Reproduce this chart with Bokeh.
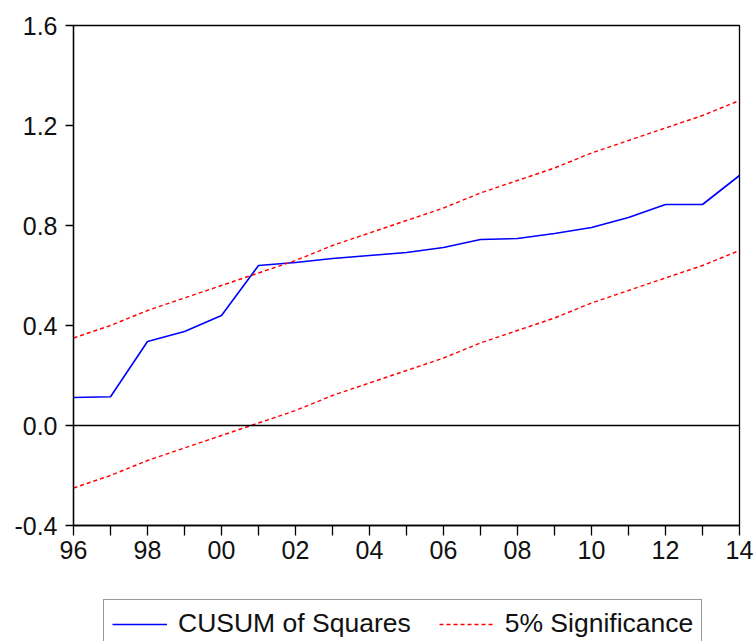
from bokeh.plotting import figure
from bokeh.models import FixedTicker, Span, Legend, LegendItem, Range1d
from bokeh.layouts import column
from bokeh.embed import file_html
from bokeh.resources import INLINE

# Data (annual, 1996-2014)
years = [1996, 1997, 1998, 1999, 2000, 2001, 2002, 2003, 2004, 2005,
         2006, 2007, 2008, 2009, 2010, 2011, 2012, 2013, 2014]
cusum_sq = [0.112, 0.115, 0.336, 0.376, 0.44, 0.64, 0.652, 0.668, 0.68, 0.692,
            0.712, 0.744, 0.748, 0.768, 0.792, 0.832, 0.884, 0.884, 1.0]
upper_5 = [0.35, 0.40, 0.46, 0.51, 0.56, 0.61, 0.66, 0.72, 0.77, 0.82,
           0.87, 0.93, 0.98, 1.03, 1.09, 1.14, 1.19, 1.24, 1.30]
lower_5 = [-0.25, -0.20, -0.14, -0.09, -0.04, 0.01, 0.06, 0.12, 0.17, 0.22,
           0.27, 0.33, 0.38, 0.43, 0.49, 0.54, 0.59, 0.64, 0.70]
y_ticks = [-0.4, 0.0, 0.4, 0.8, 1.2, 1.6]
x_tick_labels = {1996: "96", 1998: "98", 2000: "00", 2002: "02", 2004: "04",
                 2006: "06", 2008: "08", 2010: "10", 2012: "12", 2014: "14"}
legend_labels = ["CUSUM of Squares", "5% Significance"]

FONT = "Liberation Sans"
BLUE = "#0000ff"
RED = "#ff0000"

p = figure(width=754, height=597, output_backend="svg", toolbar_location=None,
           x_range=Range1d(1996, 2014), y_range=Range1d(-0.4, 1.6),
           min_border_left=73, min_border_right=15, min_border_top=25,
           min_border_bottom=72)
p.xgrid.visible = False
p.ygrid.visible = False
p.outline_line_color = "black"
p.outline_line_width = 1.3
p.outline_line_alpha = 1.0

# Axes
p.xaxis.ticker = FixedTicker(ticks=years)
p.xaxis.major_label_overrides = {y: x_tick_labels.get(y, "") for y in years}
p.xaxis.minor_tick_line_color = None
p.xaxis.major_tick_in = 0
p.xaxis.major_tick_out = 10
p.xaxis.major_label_standoff = 5
p.yaxis.ticker = FixedTicker(ticks=y_ticks)
p.yaxis.major_label_overrides = {v: f"{v:.1f}" for v in y_ticks}
p.yaxis.minor_tick_line_color = None
p.yaxis.major_tick_in = 0
p.yaxis.major_tick_out = 8
p.yaxis.major_label_standoff = 8
for ax in (p.xaxis, p.yaxis):
    ax.axis_line_color = "black"
    ax.axis_line_width = 1.3
    ax.major_tick_line_color = "black"
    ax.major_tick_line_width = 1.3
    ax.major_label_text_font = FONT
    ax.major_label_text_font_size = "25px"
    ax.major_label_text_color = "#111111"

# Zero line
p.add_layout(Span(location=0, dimension="width", line_color="black", line_width=1.3))

p.line(years, cusum_sq, line_color=BLUE, line_width=1.6)
p.line(years, upper_5, line_color=RED, line_width=1.4, line_dash="4 3")
p.line(years, lower_5, line_color=RED, line_width=1.4, line_dash="4 3")

# Legend strip below the chart (separate, axis-less figure; its series lie
# outside this strip's ranges, so only the legend shows)
pl = figure(width=754, height=44, output_backend="svg", toolbar_location=None,
            x_axis_type=None, y_axis_type=None, min_border=0,
            x_range=Range1d(0, 1), y_range=Range1d(0, 1))
pl.outline_line_color = None
pl.xgrid.visible = False
pl.ygrid.visible = False
lr1 = pl.line(years, cusum_sq, line_color=BLUE, line_width=1.6)
lr2 = pl.line(years, upper_5, line_color=RED, line_width=1.4, line_dash="4 3")
legend = Legend(items=[LegendItem(label=legend_labels[0], renderers=[lr1]),
                       LegendItem(label=legend_labels[1], renderers=[lr2])],
                orientation="horizontal", location=(30, -7),
                label_text_font=FONT, label_text_font_size="26.5px",
                label_text_color="#111111",
                glyph_width=55, label_standoff=11, spacing=28, padding=8,
                border_line_color="#333333", border_line_width=1.3,
                background_fill_alpha=1.0, margin=0)
pl.add_layout(legend, "center")

layout = column(p, pl, spacing=0)
open("out.html", "w").write(file_html(layout, INLINE))
